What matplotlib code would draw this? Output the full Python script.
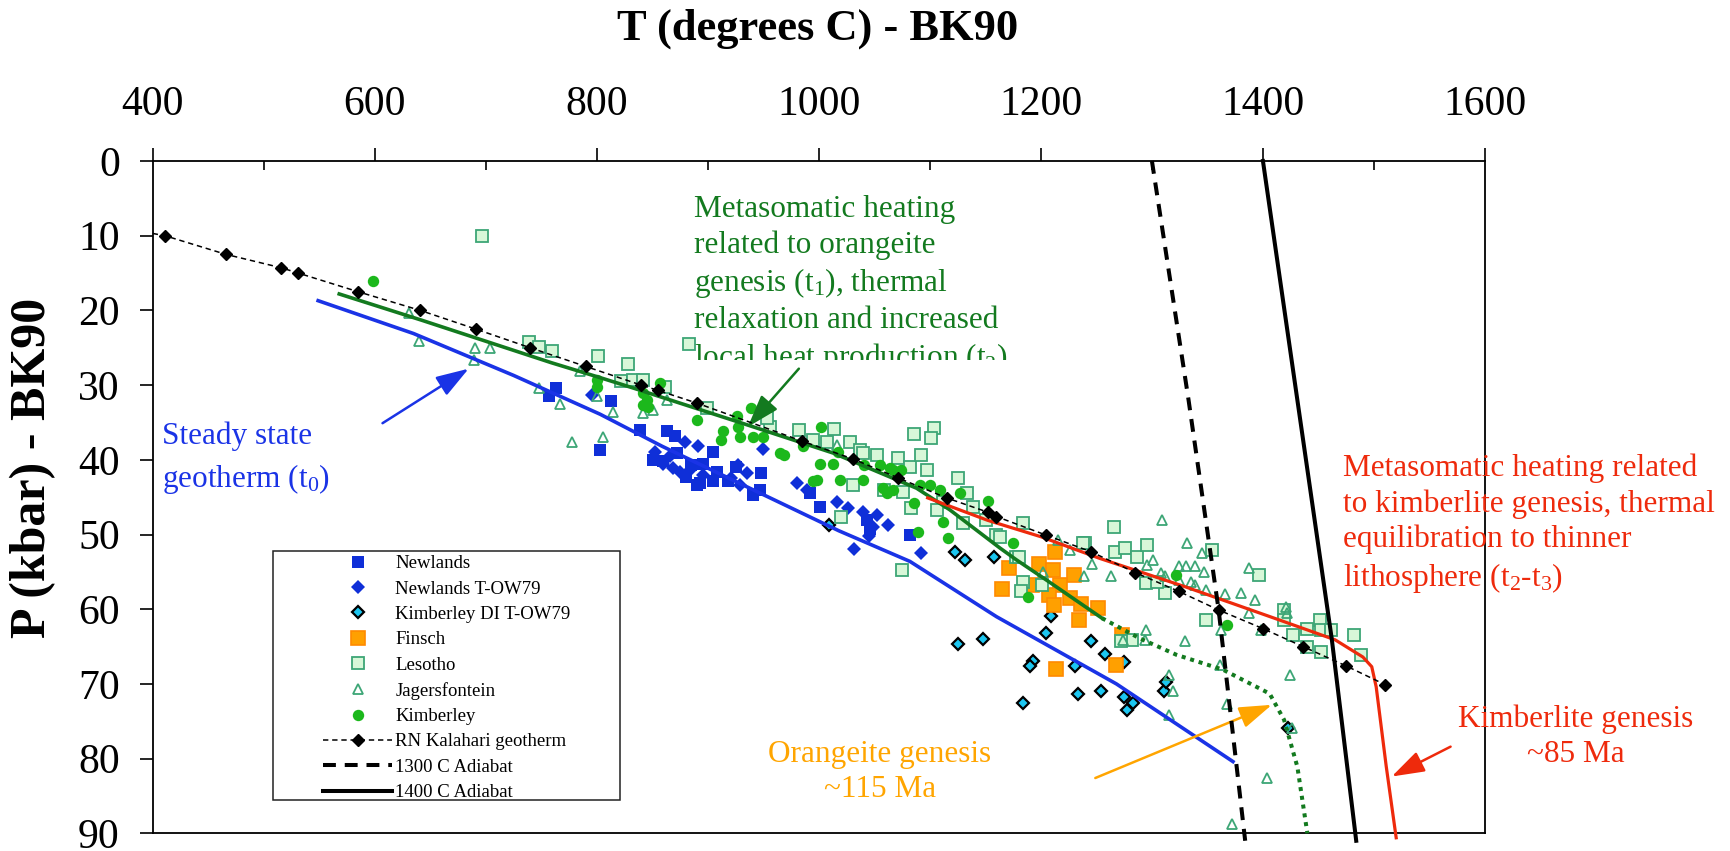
import matplotlib
matplotlib.use("Agg")
import matplotlib.pyplot as plt
from matplotlib.patches import Rectangle
from matplotlib.transforms import Bbox, TransformedBbox

plt.rcParams['font.family'] = ['Liberation Serif', 'DejaVu Serif']
plt.rcParams['mathtext.fontset'] = 'custom'
plt.rcParams['mathtext.rm'] = 'Liberation Serif'
plt.rcParams['mathtext.it'] = 'Liberation Serif:italic'
plt.rcParams['mathtext.bf'] = 'Liberation Serif:bold'

# ---- data (T in degrees C, P in kbar) ----
newlands_T = [757, 763, 803, 813, 839, 863, 851, 860, 872, 885, 890, 893, 905, 908, 918, 905,
              948, 947, 941, 992, 1001, 1043, 1046, 1082, 870, 880, 896, 925]
newlands_P = [31.5, 30.4, 38.7, 32.1, 36.0, 36.2, 40.0, 40.2, 39.1, 40.7, 43.4, 43.1, 38.9, 41.6,
              42.9, 42.9, 41.8, 44.0, 44.7, 44.5, 46.3, 48.1, 49.2, 50.1, 36.8, 42.3, 40.5, 41.0]

newlands_ow_T = [796, 879, 891, 860, 869, 875, 884, 896, 927, 935, 950, 929, 921, 980, 989, 1016,
                 1026, 1040, 1052, 1062, 1049, 1032, 1092, 1045, 852, 866]
newlands_ow_P = [31.3, 37.6, 38.2, 40.5, 41.1, 41.6, 41.4, 42.0, 40.7, 41.8, 38.5, 43.4, 42.5, 43.1,
                 44.0, 45.6, 46.5, 47.0, 47.4, 48.7, 49.0, 51.9, 52.5, 50.2, 39.0, 39.5]

kimb_di_T = [1009, 1123, 1132, 1158, 1209, 1205, 1125, 1148, 1245, 1258, 1275, 1193, 1190, 1231,
             1184, 1233, 1254, 1275, 1283, 1278, 1311, 1313, 1423]
kimb_di_P = [48.7, 52.4, 53.4, 53.0, 60.9, 63.2, 64.7, 64.0, 64.3, 66.0, 67.1, 67.0, 67.6, 67.6,
             72.5, 71.4, 71.0, 71.8, 72.5, 73.5, 71.0, 69.8, 75.9]

finsch_T = [1213, 1171, 1198, 1211, 1230, 1165, 1192, 1217, 1207, 1226, 1236, 1212, 1251, 1234,
            1273, 1268, 1214]
finsch_P = [52.3, 54.5, 53.9, 54.7, 55.4, 57.3, 56.8, 56.8, 58.1, 58.5, 59.3, 59.4, 59.9, 61.4,
            63.4, 67.5, 68.0]

lesotho_T = [697, 739, 748, 760, 801, 828, 822, 833, 842, 861, 883, 899, 956, 953, 982, 995, 1007,
             1014, 1028, 1037, 1040, 1052, 1071, 1086, 1104, 1101, 1082, 1092, 1097, 1125, 1133,
             1031, 1059, 1076, 1083, 1020, 1112, 1130, 1139, 1160, 1184, 1178, 1240, 1106, 1151,
             1266, 1238, 1163, 1180, 1201, 1184, 1182, 1267, 1276, 1287, 1296, 1295, 1312, 1305,
             1354, 1396, 1349, 1419, 1419, 1427, 1440, 1451, 1452, 1461, 1440, 1452, 1482, 1488,
             1282, 1272, 1075]
lesotho_P = [10.1, 24.2, 24.9, 25.5, 26.1, 27.2, 29.5, 29.3, 29.3, 30.3, 24.5, 33.1, 35.6, 34.4,
             36.0, 37.3, 37.6, 35.9, 37.6, 38.7, 39.1, 39.4, 39.8, 36.5, 35.8, 37.1, 40.9, 39.4,
             41.4, 42.5, 44.5, 43.4, 44.0, 44.3, 46.5, 47.6, 45.6, 48.5, 46.3, 50.1, 48.4, 53.0,
             51.2, 46.7, 48.0, 49.0, 51.1, 50.3, 53.0, 56.8, 56.3, 57.6, 52.3, 51.8, 53.0, 51.4,
             56.5, 57.8, 56.3, 52.1, 55.4, 61.5, 60.1, 61.4, 63.4, 62.6, 61.4, 62.8, 62.8, 65.0,
             65.7, 63.4, 66.1, 64.1, 64.3, 54.8]

jagers_T = [631, 640, 690, 704, 689, 748, 767, 778, 785, 800, 806, 815, 842, 851, 863, 1016, 1215,
            1226, 1246, 1263, 1239, 1309, 1332, 1301, 1296, 1308, 1312, 1324, 1331, 1339, 1345,
            1347, 1324, 1335, 1339, 1349, 1366, 1380, 1387, 1393, 1387, 1362, 1398, 1421, 1422,
            1295, 1294, 1274, 1330, 1361, 1424, 1315, 1319, 1368, 1315, 1404, 1372, 1426, 1202]
jagers_P = [20.4, 24.1, 25.1, 25.0, 26.7, 30.4, 32.5, 37.6, 28.1, 31.5, 36.9, 33.6, 33.7, 33.3,
            32.0, 38.0, 50.7, 52.1, 53.9, 55.6, 55.6, 48.1, 51.1, 53.4, 54.1, 55.1, 55.6, 54.2,
            54.2, 54.2, 52.5, 55.0, 56.1, 56.3, 56.8, 57.4, 57.9, 57.8, 54.5, 58.8, 60.5, 62.8,
            62.8, 59.7, 60.5, 62.8, 64.1, 64.1, 64.2, 67.5, 68.8, 68.8, 71.0, 72.7, 74.2, 82.6,
            88.7, 75.9, 55.0]

kimberley_T = [598, 800, 800, 857, 842, 845, 842, 846, 890, 914, 912, 926, 927, 929, 939, 941, 950,
               965, 969, 986, 1002, 1001, 995, 998, 1013, 1017, 1019, 1040, 1041, 1055, 1058, 1064,
               1067, 1074, 1061, 1067, 1091, 1100, 1086, 1112, 1116, 1127, 1152, 1175, 1089, 1109,
               1188, 1322, 1368]
kimberley_P = [16.0, 29.3, 30.2, 29.7, 31.1, 32.0, 32.7, 32.9, 34.7, 36.2, 37.3, 34.2, 35.6, 36.9,
               33.1, 36.9, 36.9, 39.1, 39.4, 38.2, 35.6, 40.5, 42.9, 42.7, 40.5, 38.9, 42.7, 42.7,
               40.7, 40.7, 43.8, 41.1, 41.4, 41.4, 44.5, 44.0, 43.4, 43.4, 45.8, 48.3, 50.5, 44.5,
               45.5, 51.2, 49.6, 44.0, 58.3, 55.4, 62.1]

# RN Kalahari geotherm (first vertex is where the line meets the axis, no marker)
geo_T = [400, 411, 466, 516, 531, 585, 641, 691, 740, 790, 840, 855, 890, 985, 1031, 1071, 1115,
         1152, 1160, 1205, 1245, 1285, 1324, 1360, 1400, 1436, 1475, 1510]
geo_P = [9.7, 10.0, 12.5, 14.3, 15.0, 17.5, 20.0, 22.5, 25.0, 27.5, 30.0, 30.7, 32.4, 37.5, 39.9,
         42.4, 45.1, 47.0, 47.6, 50.1, 52.3, 55.1, 57.6, 60.1, 62.6, 65.0, 67.6, 70.1]

adiabat1300_T = [1300, 1333, 1360, 1384]
adiabat1300_P = [0, 32, 60, 91]
adiabat1400_T = [1400, 1431, 1462, 1484]
adiabat1400_P = [0, 32, 64, 91]

steady_T = [549, 635, 725, 803, 859, 1018, 1082, 1160, 1268, 1373]
steady_P = [18.7, 23.1, 28.7, 33.9, 38.2, 49.5, 53.6, 61.0, 70.0, 80.4]

orangeite_T = [568, 642, 759, 803, 833, 935, 1013, 1088, 1118, 1163, 1178, 1205, 1255]
orangeite_P = [17.8, 21.3, 27.0, 29.0, 30.4, 35.3, 39.1, 43.8, 46.7, 51.8, 53.4, 56.1, 61.2]
orangeite_dot_T = [1255, 1289, 1322, 1364, 1406, 1419, 1431, 1440]
orangeite_dot_P = [61.2, 63.9, 66.1, 68.1, 71.3, 74.8, 81.1, 90.0]

kimb_heat_T = [1098, 1152, 1200, 1253, 1330, 1414, 1465, 1490, 1498, 1502, 1511, 1520]
kimb_heat_P = [45.1, 48.1, 50.3, 53.2, 57.0, 61.4, 64.1, 66.4, 67.7, 70.4, 81.0, 90.6]

BLUE = '#0f2fd8'
LBLUE = '#1a33e6'
GREEN = '#137a1f'
RED = '#ee2a0c'
ORANGE = '#ffa500'
SEA = '#3da676'

W, H = 1730, 851
fig = plt.figure(figsize=(W / 100, H / 100), dpi=100)
ax = fig.add_axes([152.7 / W, 1 - 833.3 / H, (1485 - 152.7) / W, (833.3 - 161) / H])

# scatter series
h_new, = ax.plot(newlands_T, newlands_P, 's', color=BLUE, ms=8.4, mew=0, label='Newlands', zorder=2)
h_now, = ax.plot(newlands_ow_T, newlands_ow_P, 'D', color=BLUE, ms=7.0, mew=0,
                 label='Newlands T-OW79', zorder=2)
h_kdi, = ax.plot(kimb_di_T, kimb_di_P, 'D', mfc='#1cc6f0', mec='black', ms=6.4, mew=1.6,
                 label='Kimberley DI T-OW79', zorder=2)
h_fin, = ax.plot(finsch_T, finsch_P, 's', mfc='#ffa000', mec='#ff8a00', ms=9.4, mew=1.2,
                 label='Finsch', zorder=2)
h_les, = ax.plot(lesotho_T, lesotho_P, 's', mfc='#d8f7d8', mec=SEA, ms=8.6, mew=1.3,
                 label='Lesotho', zorder=2)
h_jag, = ax.plot(jagers_T, jagers_P, '^', mfc='none', mec=SEA, ms=7.2, mew=1.3,
                 label='Jagersfontein', zorder=2)
h_kim, = ax.plot(kimberley_T, kimberley_P, 'o', color='#1cb81c', ms=8.2, mew=0,
                 label='Kimberley', zorder=2)

# model lines
ax.plot(steady_T, steady_P, color=LBLUE, lw=2.6, zorder=3)
ax.plot(orangeite_T, orangeite_P, color=GREEN, lw=2.6, zorder=3)
ax.plot(orangeite_dot_T, orangeite_dot_P, color=GREEN, lw=2.9, ls=(0, (1, 1.2)),
        dash_capstyle='butt', zorder=3, clip_on=False)
ax.plot(kimb_heat_T, kimb_heat_P, color=RED, lw=2.3, zorder=3, clip_on=False)

h_geo, = ax.plot(geo_T, geo_P, color='black', lw=1.1, ls=(0, (3.5, 2.5)), marker='D', ms=6.5,
                 markevery=slice(1, None), label='RN Kalahari geotherm', zorder=4, clip_on=False)
h_a13, = ax.plot(adiabat1300_T, adiabat1300_P, color='black', lw=2.9, ls=(0, (3.2, 2.2)),
                 label='1300 C Adiabat', zorder=4, clip_on=False)
h_a14, = ax.plot(adiabat1400_T, adiabat1400_P, color='black', lw=2.9,
                 label='1400 C Adiabat', zorder=4, clip_on=False)

ax.set_xlim(400, 1600)
ax.set_ylim(90, 0)

# axes styling
ax.xaxis.tick_top()
ax.set_xticks(range(400, 1601, 200))
ax.set_xticks(range(500, 1600, 200), minor=True)
ax.set_yticks(range(0, 91, 10))
ax.tick_params(axis='x', which='major', direction='out', length=9.5, width=1.2,
               labelsize=30, pad=17)
ax.tick_params(axis='x', which='minor', direction='in', length=6.5, width=1.2,
               top=True, bottom=False)
ax.tick_params(axis='y', which='major', direction='out', length=9.2, width=1.2,
               labelsize=30, pad=14.5)
for s in ax.spines.values():
    s.set_linewidth(1.3)

fig.text(818 / W, 1 - 40 / H, 'T (degrees C) - BK90', ha='center', va='baseline',
         fontsize=32, fontweight='bold')
fig.text(33 / W, 1 - 468 / H, 'P (kbar) - BK90', ha='center', va='center', rotation=90,
         fontsize=36, fontweight='bold')

# annotations
ax.text(408.6, 34.9, 'Steady state\ngeotherm ($\\mathregular{t_0}$)', color=LBLUE,
        fontsize=22.5, ha='left', va='top', linespacing=1.45)
gt = ax.text(887.6, 4.6,
             'Metasomatic heating\nrelated to orangeite\ngenesis ($\\mathregular{t_1}$), thermal\n'
             'relaxation and increased\nlocal heat production ($\\mathregular{t_2}$)',
             color=GREEN, fontsize=22.5, ha='left', va='top', linespacing=1.26)
gt.set_clip_box(TransformedBbox(Bbox([[0.3, 1 - 26.6 / 90], [0.8, 1.0]]), ax.transAxes))
gt.set_clip_on(True)
ax.text(1472.3, 39.2, 'Metasomatic heating related\nto kimberlite genesis, thermal\n'
        'equilibration to thinner\nlithosphere ($\\mathregular{t_2}$-$\\mathregular{t_3}$)',
        color=RED, fontsize=22.5, ha='left', va='top', linespacing=1.26, clip_on=False)
ax.text(1681.6, 72.8, 'Kimberlite genesis\n~85 Ma', color=RED, fontsize=22.5,
        ha='center', va='top', linespacing=1.26, multialignment='center', clip_on=False)
ax.text(1054.9, 77.5, 'Orangeite genesis\n~115 Ma', color=ORANGE, fontsize=22.5,
        ha='center', va='top', linespacing=1.26, multialignment='center')

def arrow(tail, head, color):
    ax.annotate('', xy=head, xytext=tail, annotation_clip=False,
                arrowprops=dict(arrowstyle='-|>,head_length=1.0,head_width=0.33', color=color,
                                lw=1.8, shrinkA=0, shrinkB=0, mutation_scale=20))

arrow((607, 35.1), (684.6, 27.8), LBLUE)
arrow((982, 27.8), (936, 35.6), GREEN)
arrow((1249, 82.6), (1408, 72.8), ORANGE)
arrow((1569, 78.4), (1516, 82.4), RED)

# legend with a plain rectangular frame
fig.patches.append(Rectangle((273.3 / W, 1 - 800 / H), (620 - 273.3) / W, (800 - 550.7) / H,
                             transform=fig.transFigure, fill=False, ec='#222222', lw=1.1))
leg = ax.legend(handles=[h_new, h_now, h_kdi, h_fin, h_les, h_jag, h_kim, h_geo, h_a13, h_a14],
                loc='upper left', bbox_to_anchor=(323.3 / W, 1 - 555 / H),
                bbox_transform=fig.transFigure, frameon=False, borderpad=0, borderaxespad=0,
                handlelength=3.66, handletextpad=0.18, labelspacing=0.44, numpoints=1,
                prop={'family': 'Liberation Serif', 'size': 13.5})

fig.savefig('out.png', dpi=100)
